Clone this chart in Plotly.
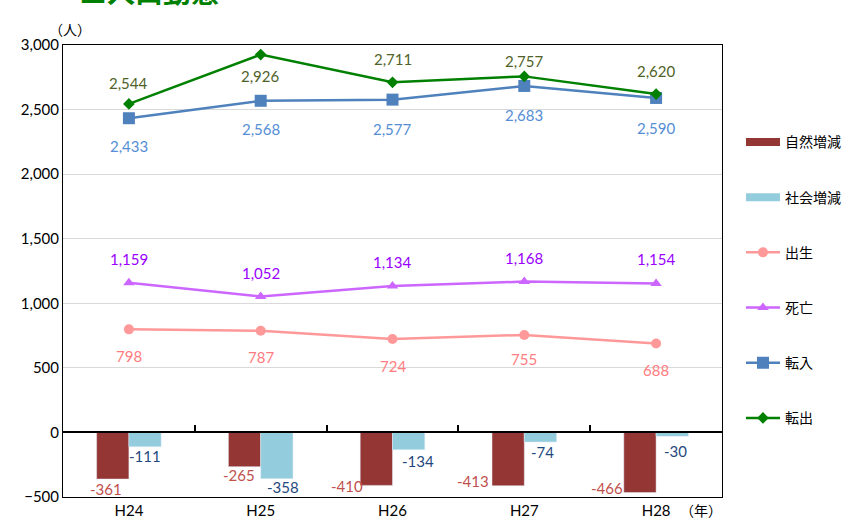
import plotly.graph_objects as go

years = ["H24", "H25", "H26", "H27", "H28"]
natural = [-361, -265, -410, -413, -466]
social = [-111, -358, -134, -74, -30]
births = [798, 787, 724, 755, 688]
deaths = [1159, 1052, 1134, 1168, 1154]
move_in = [2433, 2568, 2577, 2683, 2590]
move_out = [2544, 2926, 2711, 2757, 2620]

# label offsets (pixels) - styling only
nat_dx = [-23, -22, -46, -51, -49]
nat_dy = [-10, -8, -1, 5, 5]
soc_dx = [16, 22, 25, 18, 19]
soc_dy = [-9, -8, -11, -10, -15]
out_dy = [21, -21, 23, 15, 23]
in_dy = [-28, -28, -29, -29, -30]
death_dy = [24, 24, 24, 24, 24]
birth_dy = [-27, -26, -27, -24, -26]

NUM_FONT = "Lato, 'Noto Sans CJK JP', sans-serif"
JP_FONT = "'Noto Sans CJK JP', sans-serif"

C_NAT = "#943634"
C_SOC = "#93CDDD"
C_BIRTH = "#FF9999"
C_DEATH = "#CC66FF"
C_IN = "#4F81BD"
C_OUT = "#008000"

fig = go.Figure()
fig.add_trace(go.Bar(x=years, y=natural, name="自然増減", marker_color=C_NAT,
                     showlegend=False))
fig.add_trace(go.Bar(x=years, y=social, name="社会増減", marker_color=C_SOC,
                     showlegend=False))
# legend proxies for bars
fig.add_trace(go.Scatter(x=[None], y=[None], mode="lines", name="自然増減",
                         line=dict(color=C_NAT, width=8), legendgroup="a", xaxis="x2"))
fig.add_trace(go.Scatter(x=[None], y=[None], mode="lines", name="社会増減",
                         line=dict(color=C_SOC, width=8), legendgroup="b", xaxis="x2"))
fig.add_trace(go.Scatter(x=years, y=births, name="出生", mode="lines+markers",
                         line=dict(color=C_BIRTH, width=2.5),
                         marker=dict(symbol="circle", size=10, color=C_BIRTH), legendgroup="c"))
fig.add_trace(go.Scatter(x=years, y=deaths, name="死亡", mode="lines+markers",
                         line=dict(color=C_DEATH, width=2.5),
                         marker=dict(symbol="triangle-up", size=10, color=C_DEATH), legendgroup="d"))
fig.add_trace(go.Scatter(x=years, y=move_in, name="転入", mode="lines+markers",
                         line=dict(color=C_IN, width=2.5),
                         marker=dict(symbol="square", size=12, color=C_IN), legendgroup="e"))
fig.add_trace(go.Scatter(x=years, y=move_out, name="転出", mode="lines+markers",
                         line=dict(color=C_OUT, width=2.5),
                         marker=dict(symbol="diamond", size=9, color=C_OUT), legendgroup="f"))

ann = []
def add_labels(vals, dxs, dys, color):
    for yr, v, dx, dy in zip(years, vals, dxs, dys):
        ann.append(dict(x=yr, y=v, xref="x", yref="y", text=f"{v:,}", showarrow=False,
                        xshift=dx, yshift=dy, font=dict(family=NUM_FONT, size=15, color=color)))

add_labels(natural, nat_dx, nat_dy, "#C0504D")
add_labels(social, soc_dx, soc_dy, "#1F497D")
add_labels(move_out, [0] * 5, out_dy, "#4F6228")
add_labels(move_in, [0] * 5, in_dy, "#558ED5")
add_labels(deaths, [0] * 5, death_dy, "#9900FF")
add_labels(births, [0] * 5, birth_dy, "#FF7C80")

ann.append(dict(xref="paper", yref="paper", x=-0.0243, y=1.0, yshift=16, xanchor="left",
                yanchor="middle", text="（人）", showarrow=False,
                font=dict(family=JP_FONT, size=14, color="#000")))
ann.append(dict(xref="paper", yref="paper", x=0.933, y=0, yshift=-13, xanchor="left",
                yanchor="middle", text="（年）", showarrow=False,
                font=dict(family=JP_FONT, size=14, color="#000")))
ann.append(dict(xref="paper", yref="paper", x=0.022, y=1.0, yshift=32, xanchor="left",
                yanchor="bottom", text="<b>■人口動態</b>", showarrow=False,
                font=dict(family=JP_FONT, size=28, color="#008000")))

fig.update_layout(
    width=845, height=518,
    margin=dict(l=63, r=123, t=45, b=21, autoexpand=False),
    paper_bgcolor="white", plot_bgcolor="white",
    barmode="group", bargap=0.51, bargroupgap=0,
    annotations=ann,
    legend=dict(x=1.0288, y=0.82, xanchor="left", yanchor="top",
                font=dict(family=JP_FONT, size=14, color="#000"),
                tracegroupgap=34, itemwidth=34, traceorder="grouped"),
    xaxis=dict(type="category", showline=True, linecolor="#000", linewidth=1, mirror=True,
               ticks="", tickfont=dict(family=NUM_FONT, size=15, color="#000"),
               showgrid=False, automargin=False),
    xaxis2=dict(overlaying="x", anchor="free", position=1 / 7, range=[-0.5, 4.5],
                tickmode="array", tickvals=[-0.5, 0.5, 1.5, 2.5, 3.5, 4.5],
                ticks="inside", ticklen=6, tickwidth=2, tickcolor="#000",
                showticklabels=False, showline=True, linecolor="#000", linewidth=2,
                showgrid=False, zeroline=False),
    yaxis=dict(range=[-500, 3000], dtick=500, tickformat=",", showline=True, linecolor="#000",
               linewidth=1, mirror=True, gridcolor="#D9D9D9", gridwidth=1, zeroline=False,
               ticks="", tickfont=dict(family=NUM_FONT, size=15, color="#000"), automargin=False),
)

fig.write_html("out.html", config={"displayModeBar": False},
               post_script="document.body.style.margin='0';document.body.style.overflow='hidden';")
